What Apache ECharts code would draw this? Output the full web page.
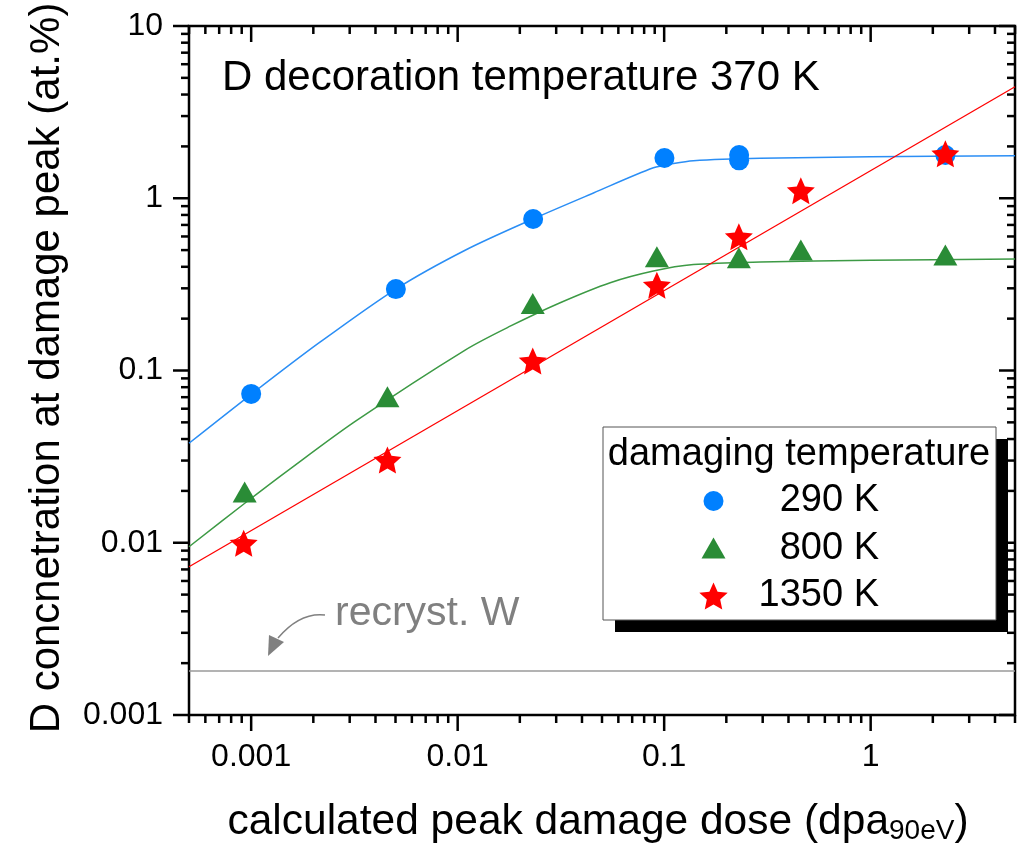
<!DOCTYPE html>
<html><head><meta charset="utf-8">
<script src="https://cdn.jsdelivr.net/npm/echarts@6/dist/echarts.min.js"></script>
<style>html,body{margin:0;padding:0;background:#fff}#c{width:1028px;height:845px}</style>
</head><body><div id="c"></div>
<script>
// ---- axis ranges / tick labels ----
const xMin = 0.0005, xMax = 5, yMin = 0.001, yMax = 10;
const xTickLabels = [0.001, 0.01, 0.1, 1];
const yTickLabels = [0.001, 0.01, 0.1, 1, 10];
const tickMantissas = [1, 2, 3, 4, 5, 6, 7, 8, 9];

// ---- measured data (damaging temperature) ----
const seriesNames = ['290 K', '800 K', '1350 K'];
const dose290 = [0.001, 0.00502, 0.0232, 0.1003, 0.2307, 0.2307, 2.30];
const conc290 = [0.0731, 0.297, 0.758, 1.713, 1.78, 1.66, 1.78];
const dose800 = [0.00093, 0.00457, 0.0231, 0.0922, 0.230, 0.459, 2.30];
const conc800 = [0.0197, 0.0705, 0.245, 0.458, 0.452, 0.501, 0.468];
const dose1350 = [0.00092, 0.00457, 0.0231, 0.0922, 0.230, 0.459, 2.30];
const conc1350 = [0.00993, 0.0302, 0.1135, 0.313, 0.598, 1.107, 1.81];

// ---- fit curves ----
const fitX290 = [0.0005, 0.001008, 0.00212, 0.00502, 0.01087, 0.02303, 0.04546, 0.0887, 0.111, 0.1386, 0.2917, 1.0, 5.0];
const fitY290 = [0.0378, 0.0732, 0.144, 0.2972, 0.4993, 0.7559, 1.073, 1.502, 1.591, 1.652, 1.706, 1.740, 1.766];
const fitX800 = [0.0005, 0.000935, 0.001516, 0.00319, 0.01087, 0.01796, 0.03136, 0.0548, 0.0887, 0.1386, 0.2917, 1.0, 5.0];
const fitY800 = [0.00948, 0.01701, 0.02641, 0.05065, 0.1315, 0.1808, 0.2475, 0.3235, 0.3782, 0.4119, 0.4266, 0.4363, 0.4439];
const fitX1350 = [0.0005, 5.0];
const fitY1350 = [0.00726, 4.44];
const recrystX = [0.0005, 5.0];
const recrystY = [0.0018, 0.0018];

const FONT = "'Liberation Sans', Arial, sans-serif";
const zip = (a, b) => a.map((v, i) => [v, b[i]]);
const isDecade = v => Math.abs(Math.log10(v) - Math.round(Math.log10(v))) < 1e-6;
const fmtDecade = v => { const e = Math.round(Math.log10(v)); return e >= 0 ? String(Math.round(v)) : v.toFixed(-e); };

function tickValues(lo, hi) {
  const out = [];
  for (let e = Math.floor(Math.log10(lo)); e <= Math.ceil(Math.log10(hi)); e++) {
    tickMantissas.forEach(m => { const v = +(m * Math.pow(10, e)).toPrecision(6); if (v >= lo * 0.9999 && v <= hi * 1.0001) out.push(v); });
  }
  return out;
}
const xTicks = tickValues(xMin, xMax);
const yTicks = tickValues(yMin, yMax);

const TICK_W = 2.5, MAJ = 16, MIN = 8;
function renderXTick(params, api) {
  const cs = params.coordSys;
  const v = api.value(0);
  const px = api.coord([v, 1])[0];
  const len = isDecade(v) ? MAJ : MIN;
  const b = cs.y + cs.height, t = cs.y;
  const st = { stroke: '#000', lineWidth: TICK_W };
  return { type: 'group', children: [
    { type: 'line', shape: { x1: px, y1: b, x2: px, y2: b + len }, style: st },
    { type: 'line', shape: { x1: px, y1: t, x2: px, y2: t + len }, style: st }
  ]};
}
function renderYTick(params, api) {
  const cs = params.coordSys;
  const v = api.value(1);
  const py = api.coord([1, v])[1];
  const len = isDecade(v) ? MAJ : MIN;
  const l = cs.x, r = cs.x + cs.width;
  const st = { stroke: '#000', lineWidth: TICK_W };
  return { type: 'group', children: [
    { type: 'line', shape: { x1: l - len, y1: py, x2: l, y2: py }, style: st },
    { type: 'line', shape: { x1: r - len, y1: py, x2: r, y2: py }, style: st }
  ]};
}

const STAR = 'path://M0,-10L2.763,-3.802L9.511,-3.09L4.47,1.452L5.878,8.09L0,4.7L-5.878,8.09L-4.47,1.452L-9.511,-3.09L-2.763,-3.802Z';
// legend icons padded to a common 29x27 box so they keep the marker sizes
const PAD = 'M-14.5,-13.5L-14.5,-13.5M14.5,13.5L14.5,13.5';
const LEG_CIRCLE = 'path://' + PAD + 'M10,0A10,10,0,1,1,-10,0A10,10,0,1,1,10,0Z';
const LEG_TRI = 'path://' + PAD + 'M0,-11L12,10L-12,10Z';
const BLUE = '#0080ff', GREEN = '#2a8c36', RED = '#ff0000';

const chart = echarts.init(document.getElementById('c'), null, { renderer: 'canvas' });
chart.setOption({
  animation: false,
  backgroundColor: '#fff',
  grid: { left: 189, right: 13, top: 26, bottom: 130, outerBoundsMode: 'none', containLabel: false,
    show: true, borderColor: '#000', borderWidth: 2.5, backgroundColor: 'transparent' },
  xAxis: {
    type: 'log', logBase: 10, min: xMin, max: xMax,
    axisLine: { show: false }, axisTick: { show: false }, splitLine: { show: false }, minorTick: { show: false },
    axisLabel: { interval: 0, margin: 26, fontSize: 32, color: '#000', fontFamily: FONT,
      formatter: v => (isDecade(v) && xTickLabels.some(t => Math.abs(t - v) / t < 1e-6)) ? fmtDecade(v) : '' },
    name: '{n|calculated peak damage dose (dpa}{s|90eV}{n|)}',
    nameLocation: 'middle', nameGap: 84,
    nameTextStyle: { color: '#000', fontFamily: FONT, padding: [0, 8, 0, 0], rich: {
      n: { fontSize: 42.5, fontFamily: FONT, color: '#000', lineHeight: 46, verticalAlign: 'middle' },
      s: { fontSize: 28, fontFamily: FONT, color: '#000', lineHeight: 26, verticalAlign: 'bottom' } } }
  },
  yAxis: {
    type: 'log', logBase: 10, min: yMin, max: yMax,
    axisLine: { show: false }, axisTick: { show: false }, splitLine: { show: false }, minorTick: { show: false },
    axisLabel: { interval: 0, margin: 26, fontSize: 32, color: '#000', fontFamily: FONT,
      formatter: v => (isDecade(v) && yTickLabels.some(t => Math.abs(t - v) / t < 1e-6)) ? fmtDecade(v) : '' }
  },
  legend: {
    data: [
      { name: seriesNames[0], icon: LEG_CIRCLE },
      { name: seriesNames[1], icon: LEG_TRI },
      { name: seriesNames[2], icon: STAR }
    ],
    orient: 'vertical', left: 694, top: 477, padding: 5,
    itemWidth: 29, itemHeight: 27, itemGap: 9.5, z: 6, symbolKeepAspect: true,
    formatter: '{a|{name}}',
    textStyle: { rich: { a: { width: 146, align: 'right', fontSize: 38, lineHeight: 40, fontFamily: FONT, color: '#000' } } }
  },
  graphic: [
    { type: 'rect', z: 4, shape: { x: 615, y: 439, width: 393, height: 193 }, style: { fill: '#000' } },
    { type: 'rect', z: 5, shape: { x: 603, y: 427, width: 393, height: 193 }, style: { fill: '#fff', stroke: '#555', lineWidth: 1 } },
    { type: 'text', z: 7, x: 799, y: 455, style: { text: 'damaging temperature', fontSize: 38, fontFamily: FONT, fill: '#000', align: 'center', verticalAlign: 'middle' } },
    { type: 'text', z: 7, x: 222, y: 78, style: { text: 'D decoration temperature 370 K', fontSize: 42, fontFamily: FONT, fill: '#000', align: 'left', verticalAlign: 'middle' } },
    { type: 'text', z: 7, x: 47, y: 368, rotation: Math.PI / 2, style: { text: 'D concnetration at damage peak (at.%)', fontSize: 42, fontFamily: FONT, fill: '#000', align: 'center', verticalAlign: 'middle' } },
    { type: 'text', z: 7, x: 335, y: 614, style: { text: 'recryst. W', fontSize: 41, fontFamily: FONT, fill: '#808080', align: 'left', verticalAlign: 'middle' } },
    { type: 'bezierCurve', z: 7, shape: { x1: 325, y1: 615, cpx1: 300, cpy1: 612, x2: 278, y2: 638 }, style: { stroke: '#808080', lineWidth: 1.5, fill: null } },
    { type: 'polygon', z: 7, shape: { points: [[268, 656], [269, 635], [284, 642]] }, style: { fill: '#808080' } }
  ],
  series: [
    { type: 'line', name: 'fit290', data: zip(fitX290, fitY290), smooth: 0.3, showSymbol: false, symbol: 'none', lineStyle: { color: '#2b8ef5', width: 1.5 }, z: 2, silent: true },
    { type: 'line', name: 'fit800', data: zip(fitX800, fitY800), smooth: 0.3, showSymbol: false, symbol: 'none', lineStyle: { color: '#3d9a45', width: 1.5 }, z: 2, silent: true },
    { type: 'line', name: 'fit1350', data: zip(fitX1350, fitY1350), showSymbol: false, symbol: 'none', lineStyle: { color: RED, width: 1.3 }, z: 2, silent: true },
    { type: 'line', name: 'recryst', data: zip(recrystX, recrystY), showSymbol: false, symbol: 'none', lineStyle: { color: '#9a9a9a', width: 1.5 }, z: 2, silent: true },
    { type: 'scatter', name: seriesNames[0], data: zip(dose290, conc290), symbol: 'circle', symbolSize: 20, itemStyle: { color: BLUE, opacity: 1 }, z: 3 },
    { type: 'scatter', name: seriesNames[1], data: zip(dose800, conc800), symbol: 'triangle', symbolSize: [24, 21], itemStyle: { color: GREEN, opacity: 1 }, z: 4 },
    { type: 'scatter', name: seriesNames[2], data: zip(dose1350, conc1350), symbol: STAR, symbolSize: [28, 27], itemStyle: { color: RED, opacity: 1 }, z: 5 },
    { type: 'custom', name: 'xticks', data: xTicks.map(v => [v, 1]), renderItem: renderXTick, clip: false, silent: true, z: 8 },
    { type: 'custom', name: 'yticks', data: yTicks.map(v => [1, v]), renderItem: renderYTick, clip: false, silent: true, z: 8 }
  ]
});
</script>
</body></html>
